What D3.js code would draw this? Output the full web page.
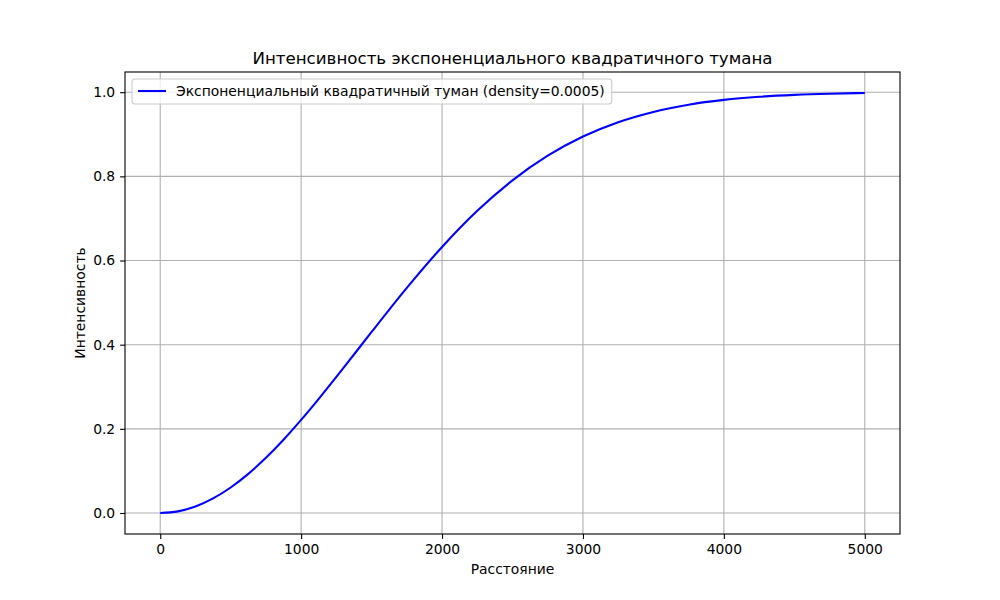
<!DOCTYPE html>
<html><head><meta charset="utf-8">
<script src="https://cdn.jsdelivr.net/npm/d3@7/dist/d3.min.js"></script>
<style>body{margin:0;background:#fff;} svg{font-family:"DejaVu Sans",sans-serif;}</style>
</head><body>
<svg id="c" width="1000" height="600"></svg>
<script>
const distances = [0,125,250,375,500,625,750,875,1000,1125,1250,1375,1500,1750,2000,2250,2500,2750,3000,3250,3500,3750,4000,4250,4500,4750,5000];
const intensity = [0,0.0039,0.0155,0.0346,0.0606,0.0930,0.1312,0.1742,0.2212,0.2712,0.3233,0.3767,0.4302,0.5350,0.6321,0.7180,0.7904,0.8490,0.8946,0.9287,0.9532,0.9703,0.9817,0.9891,0.9937,0.9965,0.9981];
const xTicks = [0,1000,2000,3000,4000,5000];
const yTicks = [0.0,0.2,0.4,0.6,0.8,1.0];
const title = "Интенсивность экспоненциального квадратичного тумана";
const xLabel = "Расстояние";
const yLabel = "Интенсивность";
const seriesName = "Экспоненциальный квадратичный туман (density=0.0005)";

const svg = d3.select("#c");
const L=125, R=900, T=72, B=534;
const x = d3.scaleLinear().domain([-250,5250]).range([L,R]);
const ymin=0, ymax=0.9981, m=(ymax-ymin)*0.05;
const y = d3.scaleLinear().domain([ymin-m, ymax+m]).range([B,T]);
const fs = "13.89px";

// grid
svg.append("g").selectAll("line").data(xTicks).join("line")
  .attr("x1",d=>x(d)).attr("x2",d=>x(d)).attr("y1",T).attr("y2",B)
  .attr("stroke","#b0b0b0").attr("stroke-width",1.1);
svg.append("g").selectAll("line").data(yTicks).join("line")
  .attr("y1",d=>y(d)).attr("y2",d=>y(d)).attr("x1",L).attr("x2",R)
  .attr("stroke","#b0b0b0").attr("stroke-width",1.1);

// line
const line = d3.line().x((d,i)=>x(distances[i])).y(d=>y(d)).curve(d3.curveMonotoneX);
svg.append("path").datum(intensity).attr("d",line)
  .attr("fill","none").attr("stroke","blue").attr("stroke-width",2.08);

// axes
const xa = svg.append("g").attr("transform",`translate(0,${B})`)
  .call(d3.axisBottom(x).tickValues(xTicks).tickFormat(d3.format("d")).tickSize(4.9).tickPadding(4.9));
const ya = svg.append("g").attr("transform",`translate(${L},0)`)
  .call(d3.axisLeft(y).tickValues(yTicks).tickFormat(d3.format(".1f")).tickSize(4.9).tickPadding(4.9));
[xa,ya].forEach(a=>{
  a.select(".domain").remove();
  a.selectAll("text").attr("font-size",fs).attr("fill","#000").attr("font-family","DejaVu Sans");
  a.selectAll("line").attr("stroke","#000").attr("stroke-width",1.1);
});
svg.append("rect").attr("x",L).attr("y",T).attr("width",R-L).attr("height",B-T)
  .attr("fill","none").attr("stroke","#000").attr("stroke-width",1.1);

// title & labels
svg.append("text").attr("x",(L+R)/2).attr("y",64).attr("text-anchor","middle")
  .attr("font-size","16.67px").text(title);
svg.append("text").attr("x",(L+R)/2).attr("y",574).attr("text-anchor","middle")
  .attr("font-size",fs).text(xLabel);
svg.append("text").attr("transform",`translate(85,${(T+B)/2}) rotate(-90)`).attr("text-anchor","middle")
  .attr("font-size",fs).text(yLabel);

// legend
const lg = svg.append("g");
const lt = lg.append("text").attr("x",176).attr("y",96).attr("font-size",fs).text(seriesName);
const w = lt.node().getComputedTextLength();
lg.insert("rect","text").attr("x",132).attr("y",79).attr("width",176+w+7-132).attr("height",25)
  .attr("rx",3).attr("fill","rgba(255,255,255,0.8)").attr("stroke","#cccccc").attr("stroke-width",1.1);
lg.append("line").attr("x1",138).attr("x2",166).attr("y1",91).attr("y2",91)
  .attr("stroke","blue").attr("stroke-width",2.08);
</script>
</body></html>
